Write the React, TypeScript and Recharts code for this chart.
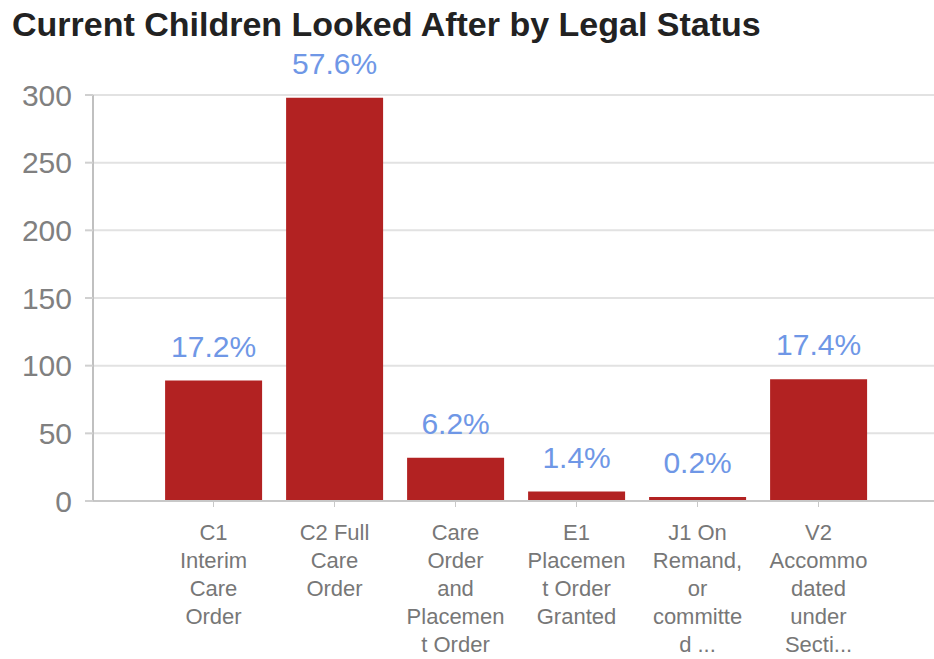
import React from "react";
import { BarChart, Bar, XAxis, YAxis, CartesianGrid, LabelList } from "recharts";

const categories = [
  "C1 Interim Care Order",
  "C2 Full Care Order",
  "Care Order and Placement Order",
  "E1 Placement Order Granted",
  "J1 On Remand, or committed ...",
  "V2 Accommodated under Secti...",
];
const counts = [89, 298, 32, 7, 1, 90];
const pctLabels = ["17.2%", "57.6%", "6.2%", "1.4%", "0.2%", "17.4%"];
const tickLines = [
  ["C1", "Interim", "Care", "Order"],
  ["C2 Full", "Care", "Order"],
  ["Care", "Order", "and", "Placemen", "t Order"],
  ["E1", "Placemen", "t Order", "Granted"],
  ["J1 On", "Remand,", "or", "committe", "d ..."],
  ["V2", "Accommo", "dated", "under", "Secti..."],
];
const yTicks = [0, 50, 100, 150, 200, 250, 300];

const FONT = "'Liberation Sans', Arial, sans-serif";

const data = categories.map((name, i) => ({
  name,
  count: counts[i],
  pct: pctLabels[i],
}));

function CategoryTick(props: any) {
  const { x, y, payload } = props;
  const lines = tickLines[payload.index] || [payload.value];
  return (
    <g transform={`translate(${x},${y})`}>
      <text textAnchor="middle" fill="#777" fontSize={22} fontFamily={FONT}>
        {lines.map((l, i) => (
          <tspan key={i} x={0} dy={i === 0 ? 31 : 28}>
            {l}
          </tspan>
        ))}
      </text>
    </g>
  );
}

export default function App() {
  return (
    <div
      style={{
        position: "absolute",
        left: 0,
        top: 0,
        width: 934,
        height: 659,
        background: "#fff",
        fontFamily: FONT,
      }}
    >
      <div
        style={{
          position: "absolute",
          left: 12,
          top: 7,
          fontSize: 34,
          lineHeight: "34px",
          fontWeight: "bold",
          color: "#222",
          whiteSpace: "nowrap",
        }}
      >
        Current Children Looked After by Legal Status
      </div>
      <BarChart
        width={934}
        height={659}
        data={data}
        margin={{ top: 95, right: 0, left: 0, bottom: 0 }}
        barCategoryGap="10%"
        style={{ position: "absolute", left: 0, top: 0 }}
      >
        <CartesianGrid vertical={false} stroke="#e2e2e2" strokeWidth={2} />
        <XAxis
          dataKey="name"
          height={158}
          padding={{ left: 60, right: 55 }}
          tickSize={6}
          axisLine={{ stroke: "#c8c8c8", strokeWidth: 2 }}
          tickLine={{ stroke: "#c8c8c8" }}
          tick={<CategoryTick />}
          interval={0}
        />
        <YAxis
          width={93}
          domain={[0, 300]}
          ticks={yTicks}
          tickSize={8}
          tickMargin={13}
          axisLine={{ stroke: "#c0c0c0", strokeWidth: 2 }}
          tickLine={{ stroke: "#d0d0d0", strokeWidth: 2 }}
          tick={{ fill: "#808080", fontSize: 30, fontFamily: FONT }}
        />
        <Bar dataKey="count" fill="#b22222" minPointSize={4} isAnimationActive={false}>
          <LabelList
            dataKey="pct"
            position="top"
            offset={24}
            fill="#6f97e6"
            fontSize={30}
            fontFamily={FONT}
          />
        </Bar>
      </BarChart>
    </div>
  );
}
